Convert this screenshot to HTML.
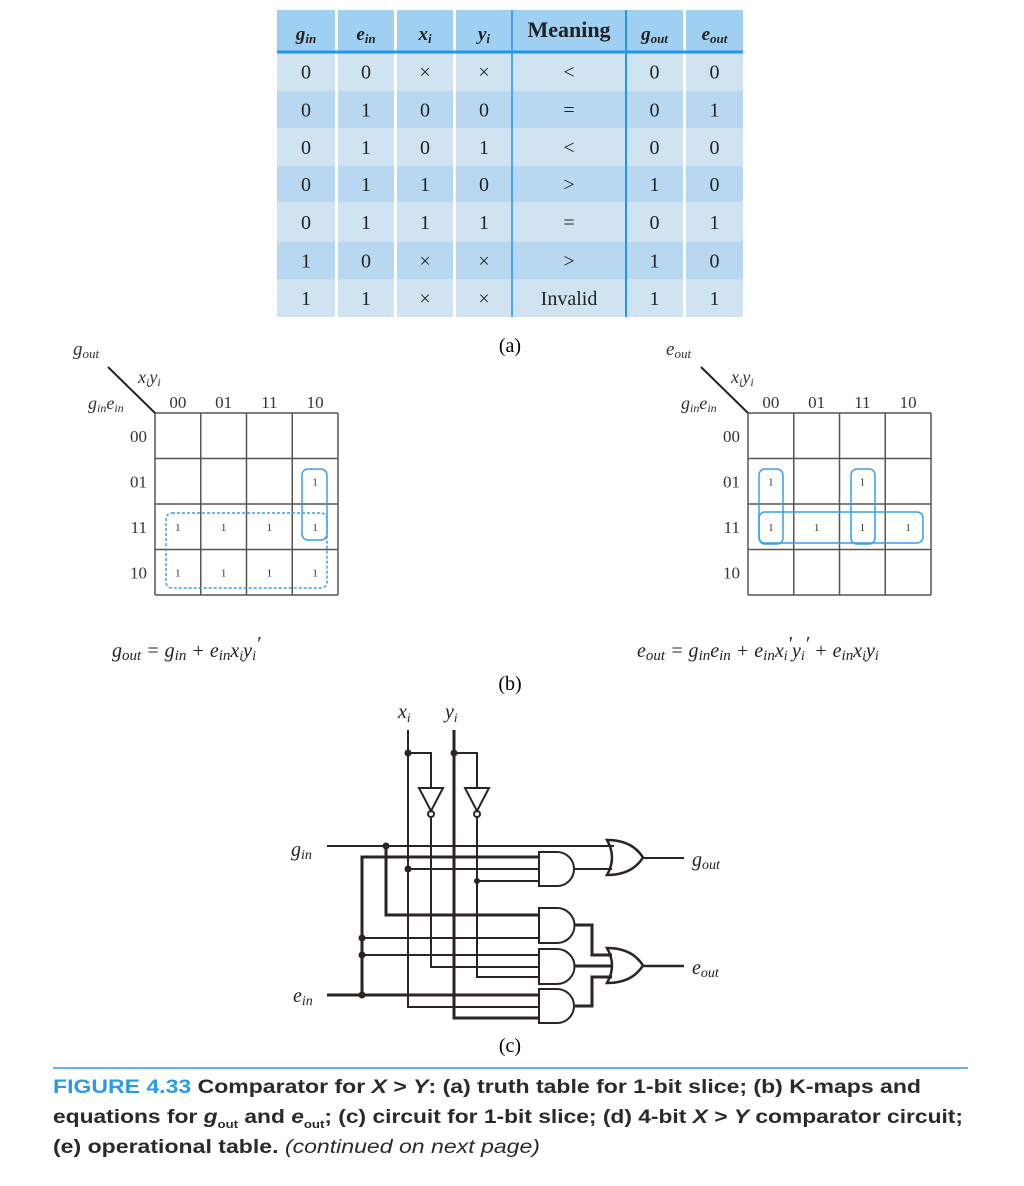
<!DOCTYPE html>
<html><head><meta charset="utf-8">
<style>
html,body{margin:0;padding:0;background:#fff;}
svg{display:block;}
.serif{font-family:"Liberation Serif",serif;}
.it{font-style:italic;}
.sans{font-family:"Liberation Sans",sans-serif;}
</style></head>
<body>
<svg id="fig" width="1024" height="1186" viewBox="0 0 1024 1186" xmlns="http://www.w3.org/2000/svg">
<g id="table"></g>
<text x="510" y="352" class="serif" font-size="20" text-anchor="middle">(a)</text>
<g id="kmaps"></g>
<text x="112" y="657" class="serif it" font-size="20" fill="#222">g<tspan font-size="15" dy="3">out</tspan><tspan dy="-3"> = g</tspan><tspan font-size="15" dy="3">in</tspan><tspan dy="-3"> + e</tspan><tspan font-size="15" dy="3">in</tspan><tspan dy="-3">x</tspan><tspan font-size="14" dy="3">i</tspan><tspan dy="-3">y</tspan><tspan font-size="14" dy="3">i</tspan><tspan dy="-10">′</tspan></text>
<text x="637" y="657" class="serif it" font-size="20" fill="#222">e<tspan font-size="15" dy="3">out</tspan><tspan dy="-3"> = g</tspan><tspan font-size="15" dy="3">in</tspan><tspan dy="-3">e</tspan><tspan font-size="15" dy="3">in</tspan><tspan dy="-3"> + e</tspan><tspan font-size="15" dy="3">in</tspan><tspan dy="-3">x</tspan><tspan font-size="14" dy="3">i</tspan><tspan dy="-10">′</tspan><tspan dy="7">y</tspan><tspan font-size="14" dy="3">i</tspan><tspan dy="-10">′</tspan><tspan dy="7"> + e</tspan><tspan font-size="15" dy="3">in</tspan><tspan dy="-3">x</tspan><tspan font-size="14" dy="3">i</tspan><tspan dy="-3">y</tspan><tspan font-size="14" dy="3">i</tspan></text>
<text x="510" y="690" class="serif" font-size="20" text-anchor="middle">(b)</text>

<g id="circuit" stroke="#2a2520" stroke-width="2" fill="none">
  <!-- inputs -->
  <polyline points="408,730 408,1007 539,1007"/>
  <polyline points="454,730 454,1018 539,1018" stroke-width="3"/>
  <polyline points="408,753 431,753 431,788"/>
  <polyline points="454,753 477,753 477,788"/>
  <polygon points="419,788 443,788 431,811"/>
  <polygon points="465,788 489,788 477,811"/>
  <circle cx="431" cy="814" r="3"/>
  <circle cx="477" cy="814" r="3"/>
  <polyline points="431,817 431,967 539,967"/>
  <polyline points="477,817 477,977 539,977"/>
  <line x1="327" y1="846" x2="614" y2="846"/>
  <polyline points="386,846 386,915 539,915" stroke-width="3"/>
  <line x1="327" y1="995" x2="539" y2="995" stroke-width="3"/>
  <polyline points="362,995 362,857 539,857" stroke-width="3"/>
  <line x1="362" y1="938" x2="539" y2="938"/>
  <line x1="362" y1="955" x2="539" y2="955"/>
  <line x1="408" y1="869" x2="539" y2="869"/>
  <line x1="477" y1="881" x2="539" y2="881"/>
  <!-- AND gates -->
  <path d="M539,852 H557 A17,17 0 0 1 557,886 H539 Z"/>
  <path d="M539,908 H557 A17.5,17.5 0 0 1 557,943 H539 Z"/>
  <path d="M539,949 H557 A17.5,17.5 0 0 1 557,984 H539 Z"/>
  <path d="M539,989 H557 A17,17 0 0 1 557,1023 H539 Z"/>
  <line x1="575" y1="869" x2="612" y2="869"/>
  <polyline points="575,925 592,925 592,955 612,955" stroke-width="3"/>
  <line x1="575" y1="966" x2="612" y2="966" stroke-width="3"/>
  <polyline points="575,1006 592,1006 592,977 612,977" stroke-width="3"/>
  <!-- OR gates -->
  <path d="M607,840 Q617,857.5 607,875 Q632,875 643,857.5 Q632,840 607,840 Z" stroke-width="2.5"/>
  <path d="M607,948 Q617,965.5 607,983 Q632,983 643,965.5 Q632,948 607,948 Z" stroke-width="2.5"/>
  <line x1="643" y1="858" x2="684" y2="858"/>
  <line x1="643" y1="966" x2="684" y2="966" stroke-width="2.5"/>
  <g fill="#2a2520" stroke="none">
    <circle cx="408" cy="753" r="3.5"/><circle cx="454" cy="753" r="3.5"/>
    <circle cx="386" cy="846" r="3.5"/><circle cx="408" cy="869" r="3.5"/>
    <circle cx="477" cy="881" r="3"/><circle cx="362" cy="938" r="3.5"/>
    <circle cx="362" cy="955" r="3.5"/><circle cx="362" cy="995" r="3.5"/>
  </g>
</g>
<g class="serif it" font-size="20" fill="#222">
  <text x="398" y="718">x<tspan font-size="13" dy="4">i</tspan></text>
  <text x="445" y="718">y<tspan font-size="13" dy="4">i</tspan></text>
  <text x="291" y="856">g<tspan font-size="14" dy="3">in</tspan></text>
  <text x="293" y="1002">e<tspan font-size="14" dy="3">in</tspan></text>
  <text x="692" y="866">g<tspan font-size="14" dy="3">out</tspan></text>
  <text x="692" y="974">e<tspan font-size="14" dy="3">out</tspan></text>
</g>
<text x="510" y="1052" class="serif" font-size="20" text-anchor="middle">(c)</text>

<line x1="53" y1="1068" x2="968" y2="1068" stroke="#2b9ae6" stroke-width="1.5"/>
<g class="sans" font-size="19" font-weight="bold" fill="#2a2a2a">
  <text x="53" y="1093" textLength="868" lengthAdjust="spacingAndGlyphs"><tspan fill="#2b9ae6">FIGURE 4.33</tspan>  Comparator for <tspan font-style="italic">X</tspan> &gt; <tspan font-style="italic">Y</tspan>: (a) truth table for 1-bit slice; (b) K-maps and</text>
  <text x="53" y="1123" textLength="910" lengthAdjust="spacingAndGlyphs">equations for <tspan font-style="italic">g</tspan><tspan font-size="11" dy="5">out</tspan><tspan dy="-5"> and </tspan><tspan font-style="italic">e</tspan><tspan font-size="11" dy="5">out</tspan><tspan dy="-5">; (c) circuit for 1-bit slice; (d) 4-bit </tspan><tspan font-style="italic">X</tspan> &gt; <tspan font-style="italic">Y</tspan> comparator circuit;</text>
  <text x="53" y="1153" textLength="487" lengthAdjust="spacingAndGlyphs">(e) operational table. <tspan font-weight="normal" font-style="italic">(continued on next page)</tspan></text>
</g>
</svg>
<script>
const NS="http://www.w3.org/2000/svg";
const headers=[["g","in"],["e","in"],["x","i"],["y","i"],["Meaning",""],["g","out"],["e","out"]];
const colGin=["0","0","0","0","0","1","1"];
const colEin=["0","1","1","1","1","0","1"];
const colXi=["×","0","0","1","1","×","×"];
const colYi=["×","0","1","0","1","×","×"];
const colMeaning=["<","=","<",">","=",">","Invalid"];
const colGout=["0","0","0","1","0","1","1"];
const colEout=["0","1","0","0","1","0","1"];
const kRowLabels=["00","01","11","10"];
const kColLabels=["00","01","11","10"];
const kGout=[[0,0,0,0],[0,0,0,1],[1,1,1,1],[1,1,1,1]];
const kEout=[[0,0,0,0],[1,0,1,0],[1,1,1,1],[0,0,0,0]];

function mk(tag,attrs,parent){const e=document.createElementNS(NS,tag);for(const k in attrs)e.setAttribute(k,attrs[k]);parent.appendChild(e);return e;}

// table
const tbl=document.getElementById('table');
const colX=[277,338,397,456,512,626,686];
const colW=[58,56,56,56,114,57,57];
const rowY=[52,91,128,166,202,242,279,317];
const cols=[colGin,colEin,colXi,colYi,colMeaning,colGout,colEout];
for(let c=0;c<7;c++){
  const h=mk('rect',{x:colX[c],y:10,width:colW[c],height:42,fill:'#9fd0f2'},tbl);
  
  
  const t=mk('text',{x:colX[c]+colW[c]/2,y:c==4?37:40,'text-anchor':'middle','font-family':'Liberation Serif, serif','font-size':c==4?22:19,'font-weight':'bold','font-style':c==4?'normal':'italic',fill:'#222'},tbl);
  
  
  t.textContent=headers[c][0];
  if(headers[c][1]){const s=mk('tspan',{'font-size':13,dy:3},t);s.textContent=headers[c][1];}
  for(let r=0;r<7;r++){
    const y0=rowY[r],hh=rowY[r+1]-rowY[r];
    const rc=mk('rect',{x:colX[c],y:y0,width:colW[c],height:hh,fill:r%2==0?'#d0e3f1':'#b8d8f1'},tbl);
    
    
    const tx=mk('text',{x:colX[c]+colW[c]/2,y:y0+hh/2+7,'text-anchor':'middle','font-family':'Liberation Serif, serif','font-size':20,fill:'#222'},tbl);
    
    
    tx.textContent=cols[c][r];
  }
}
mk('line',{x1:277,y1:52,x2:743,y2:52,stroke:'#2196ee','stroke-width':3},tbl);
mk('line',{x1:512,y1:10,x2:512,y2:317,stroke:'#2196ee','stroke-width':1.5},tbl);
mk('line',{x1:626,y1:10,x2:626,y2:317,stroke:'#2196ee','stroke-width':2},tbl);

// kmaps
const km=document.getElementById('kmaps');
function kmap(x0,vals,name,title){
  const y0=413,cw=45.75,ch=45.5;
  const g=mk('g',{},km);
  
  
  for(let i=0;i<=4;i++){
    mk('line',{x1:x0+i*cw,y1:y0,x2:x0+i*cw,y2:y0+4*ch,stroke:'#5a5550','stroke-width':1.5},g);
    mk('line',{x1:x0,y1:y0+i*ch,x2:x0+4*cw,y2:y0+i*ch,stroke:'#5a5550','stroke-width':1.5},g);
  }
  mk('line',{x1:x0-47,y1:y0-46,x2:x0,y2:y0,stroke:'#222','stroke-width':2},g);
  for(let i=0;i<4;i++){
    const cl=mk('text',{x:x0+i*cw+cw/2,y:y0-5,'text-anchor':'middle','font-family':'Liberation Serif, serif','font-size':17,fill:'#333'},g);
    
    
    cl.textContent=kColLabels[i];
    const rl=mk('text',{x:x0-8,y:y0+i*ch+ch/2+6,'text-anchor':'end','font-family':'Liberation Serif, serif','font-size':17,fill:'#333'},g);
    
    
    rl.textContent=kRowLabels[i];
    for(let j=0;j<4;j++){
      if(vals[i][j]){
        const v=mk('text',{x:x0+j*cw+cw/2,y:y0+i*ch+ch/2+4,'text-anchor':'middle','font-family':'Liberation Serif, serif','font-size':11,fill:'#333'},g);
        
        
        v.textContent='1';
      }
    }
  }
  const t=mk('text',{x:x0-82,y:y0-58,'font-family':'Liberation Serif, serif','font-style':'italic','font-size':19,fill:'#333'},g);
  
  
  t.textContent=title[0];
  const ts=mk('tspan',{'font-size':13,dy:3},t);ts.textContent=title[1];
  const xy=mk('text',{x:x0-17,y:y0-30,'font-family':'Liberation Serif, serif','font-style':'italic','font-size':18,fill:'#333'},g);
  
  
  xy.innerHTML='x<tspan font-size="12" dy="3">i</tspan><tspan dy="-3">y</tspan><tspan font-size="12" dy="3">i</tspan>';
  const ge=mk('text',{x:x0-67,y:y0-4,'font-family':'Liberation Serif, serif','font-style':'italic','font-size':18,fill:'#333'},g);
  
  
  ge.innerHTML='g<tspan font-size="12" dy="3">in</tspan><tspan dy="-3">e</tspan><tspan font-size="12" dy="3">in</tspan>';
  return g;
}
const gL=kmap(155,kGout,'gout-kmap',['g','out']);
const gR=kmap(748,kEout,'eout-kmap',['e','out']);
function loop(g,x,y,w,h,dash,name){
  const r=mk('rect',{x:x,y:y,width:w,height:h,rx:6,fill:'none',stroke:'#3a9ee8','stroke-width':1.5},g);
  if(dash)r.setAttribute('stroke-dasharray','3,2');
  
  
}
loop(gL,302,469,25,71,false,'loop-ein-xi-yinot');
loop(gL,166,513,161,75,true,'loop-gin');
loop(gR,759,469,24,75,false,'loop-ein-xinot-yinot');
loop(gR,851,469,24,75,false,'loop-ein-xi-yi');
loop(gR,759,512,164,31,false,'loop-gin-ein');
</script>
</body></html>
